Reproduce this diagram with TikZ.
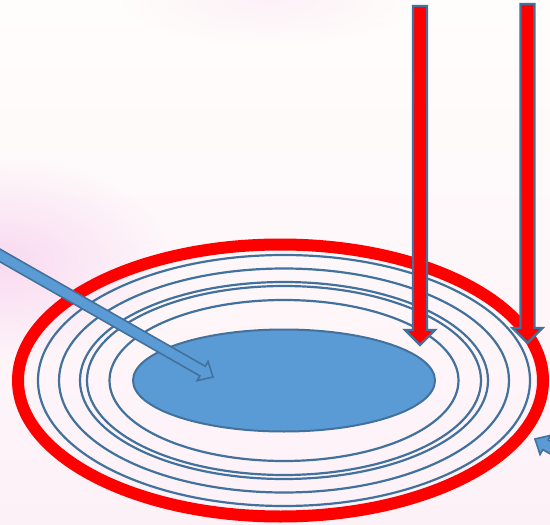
\documentclass[tikz,border=0pt]{standalone}
\usetikzlibrary{calc,fadings}
\definecolor{outlineblue}{HTML}{41719C}
\definecolor{fillblue}{HTML}{5B9BD5}
\definecolor{bgtop}{HTML}{FFFDFB}
\definecolor{bgbottom}{HTML}{FDF1F8}
\definecolor{pinkspot}{HTML}{F5C2EA}
\tikzfading[name=softspot, inner color=transparent!0, outer color=transparent!100]
\newcommand{\myblockarrow}[6]{%
  \coordinate (ba-s) at #2;
  \coordinate (ba-t) at #3;
  \coordinate (ba-b) at ($(ba-t)!#6!(ba-s)$);
  \filldraw[#1] (ba-t) -- ($(ba-b)!#5!90:(ba-t)$) -- ($(ba-b)!#4!90:(ba-t)$)
    -- ($(ba-s)!#4!90:(ba-t)$) -- ($(ba-s)!#4!-90:(ba-t)$)
    -- ($(ba-b)!#4!-90:(ba-t)$) -- ($(ba-b)!#5!-90:(ba-t)$) -- cycle;}
\begin{document}
\begin{tikzpicture}[x=1pt,y=-1pt,
  ring/.style={draw=outlineblue,line width=2.2pt},
  redarrow/.style={fill=red,draw=outlineblue,line width=2.2pt,line join=miter},
  bluearrow/.style={fill=fillblue,draw=outlineblue,line width=1.6pt,line join=miter}]
\useasboundingbox (0,0) rectangle (550,525);
\clip (0,0) rectangle (550,525);
% background
\shade[top color=bgtop,bottom color=bgbottom] (0,0) rectangle (550,525);
\fill[pinkspot,path fading=softspot,opacity=0.55] (0,260) ellipse (170 and 100);
\fill[pinkspot,path fading=softspot,opacity=0.2] (270,0) ellipse (150 and 45);
% rings
\coordinate (c) at (284,380.5);
\draw[red,line width=12pt] (280.5,380.5) ellipse (262.5 and 136);
\draw[ring] (c) ellipse (246 and 125.5);
\draw[ring] (c) ellipse (225 and 112);
\draw[ring] (c) ellipse (204 and 98.5);
\draw[ring] (c) ellipse (197 and 94.5);
\draw[ring] (c) ellipse (174.5 and 80.5);
\filldraw[fill=fillblue,draw=outlineblue,line width=2pt] (c) ellipse (151 and 51);
% arrows
\myblockarrow{bluearrow}{(-47.6,228.3)}{(213,377)}{5.5pt}{11pt}{12pt}
\myblockarrow{bluearrow}{(796,586)}{(535,439)}{5.5pt}{11pt}{12pt}
\myblockarrow{redarrow}{(420,6)}{(420,345)}{7pt}{15pt}{15pt}
\myblockarrow{redarrow}{(527.5,4)}{(527.5,343)}{7pt}{15pt}{15pt}
\end{tikzpicture}
\end{document}
